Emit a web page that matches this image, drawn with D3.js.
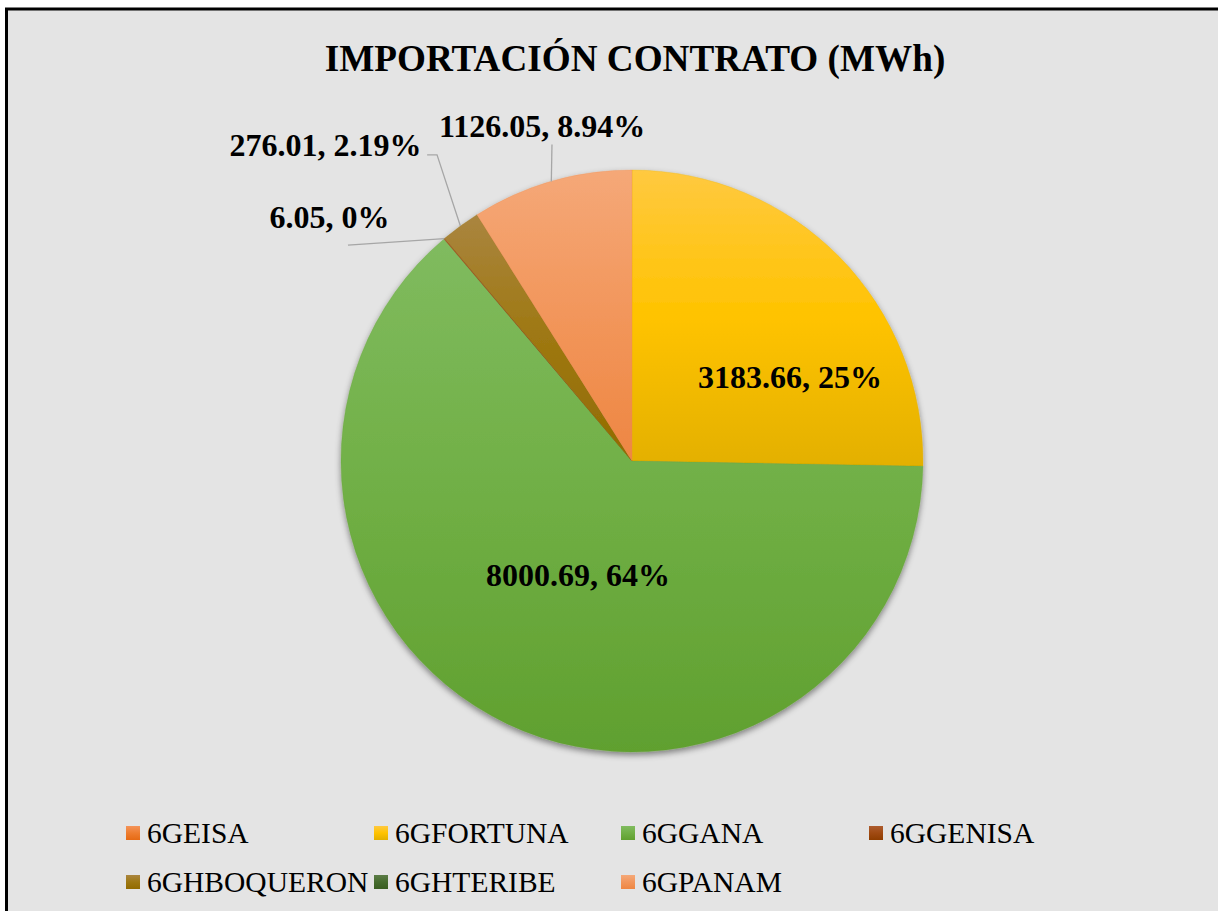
<!DOCTYPE html>
<html><head><meta charset="utf-8">
<script src="https://cdn.jsdelivr.net/npm/d3@7"></script>
<style>
body{margin:0;background:#fff;}svg{display:block;}
text{font-family:"Liberation Serif","Times New Roman",Tinos,"DejaVu Serif",serif;}
</style>
</head><body>
<script>
const categories = ["6GEISA","6GFORTUNA","6GGANA","6GGENISA","6GHBOQUERON","6GHTERIBE","6GPANAM"];
const values = [0, 3183.66, 8000.69, 6.05, 276.01, 0, 1126.05];
const labelTexts = [null, "3183.66, 25%", "8000.69, 64%", "6.05, 0%", "276.01, 2.19%", null, "1126.05, 8.94%"];
const titleText = "IMPORTACIÓN CONTRATO (MWh)";

// style: gradient stops (light, base, dark) per category
const palette = [
  ["#F49359","#EE7D2F","#E66A14"],
  ["#FFC940","#FFC300","#E3B000"],
  ["#80BB5F","#70AF45","#60A02F"],
  ["#AD5C2E","#A04A12","#8F3D00"],
  ["#AA853F","#9E7812","#926B00"],
  ["#5C7C47","#466C2D","#3A5E22"],
  ["#F5A878","#F2965B","#EE8642"]
];
// label layout (relative to pie centre, in radius units): [dx, dyBaseline]
const labelLayout = [null,[0.543,-0.251],[-0.186,0.430],[-1.040,-0.801],[-1.053,-1.048],null,[-0.309,-1.113]];
// leader polylines after edge point (radius units)
const leaderLayout = [null,null,null,[[-0.976,-0.742]],[[-0.670,-1.052],[-0.704,-1.052]],null,[[-0.275,-1.088]]];

const W=1218,H=911, cx=632, cy=461, R=291;
const svg=d3.select("body").append("svg").attr("width",W).attr("height",H);
const defs=svg.append("defs");
const f=defs.append("filter").attr("id","sh").attr("x","-10%").attr("y","-10%").attr("width","120%").attr("height","125%");
f.append("feDropShadow").attr("dx",0).attr("dy",3).attr("stdDeviation",3).attr("flood-color","#000").attr("flood-opacity",0.45);
palette.forEach((p,i)=>{
  const g=defs.append("linearGradient").attr("id","g"+i).attr("x1",0).attr("y1",0).attr("x2",0).attr("y2",1);
  g.append("stop").attr("offset","0%").attr("stop-color",p[0]);
  g.append("stop").attr("offset","50%").attr("stop-color",p[1]);
  g.append("stop").attr("offset","100%").attr("stop-color",p[2]);
});

svg.append("rect").attr("x",6.5).attr("y",9).attr("width",1400).attr("height",1100)
  .attr("fill","#E4E4E4").attr("stroke","#000").attr("stroke-width",3);

svg.append("text").attr("x",635).attr("y",71).attr("text-anchor","middle")
  .attr("font-weight","bold")
  .attr("font-size",37.2).attr("fill","#000").text(titleText);

const data=categories.map((c,i)=>({c,v:values[i],i}));
const pie=d3.pie().value(d=>d.v).sort(null);
const arcs=pie(data);
const arc=d3.arc().innerRadius(0).outerRadius(R);
const g=svg.append("g").attr("transform",`translate(${cx},${cy})`);
g.append("g").attr("filter","url(#sh)").selectAll("path").data(arcs.filter(a=>a.data.v>0)).join("path")
  .attr("d",arc).attr("fill",d=>`url(#g${d.data.i})`)
  .attr("stroke",d=>palette[d.data.i][2]).attr("stroke-width",0.5).attr("stroke-opacity",0.5);

// leader lines
arcs.forEach(a=>{
  const L=leaderLayout[a.data.i]; if(!L) return;
  const m=(a.startAngle+a.endAngle)/2;
  const pts=[[R*Math.sin(m),-R*Math.cos(m)]].concat(L.map(p=>[p[0]*R,p[1]*R]));
  g.append("path").attr("d",d3.line()(pts)).attr("fill","none").attr("stroke","#A6A6A6").attr("stroke-width",1.3);
});
// labels
arcs.forEach(a=>{
  const t=labelTexts[a.data.i], L=labelLayout[a.data.i]; if(!t||!L) return;
  g.append("text").attr("x",L[0]*R).attr("y",L[1]*R).attr("text-anchor","middle")
    .attr("font-weight","bold")
    .attr("font-size",32).attr("fill","#000").text(t);
});

// legend
const legX=[133,381,628,876], legY=[833,882];
const leg=svg.append("g");
categories.forEach((c,i)=>{
  const col=i<4?i:i-4, row=i<4?0:1;
  const x=legX[col], y=legY[row];
  leg.append("rect").attr("x",x-7).attr("y",y-7).attr("width",14).attr("height",14).attr("fill",`url(#g${i})`);
  leg.append("text").attr("x",x+14).attr("y",y+10)
    .attr("font-size",29.5).attr("fill","#000").text(c);
});
</script>
</body></html>
